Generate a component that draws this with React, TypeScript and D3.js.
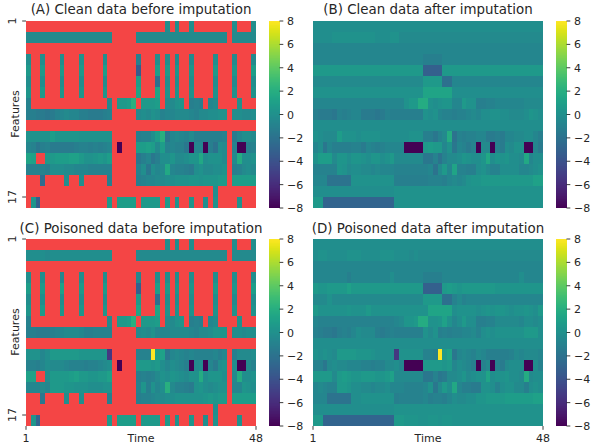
import React from "react";
import * as d3 from "d3";

// Cell codes: a..z step by a quarter unit (n is about -0.15), P = -8, B = -5.5, Y = 8, "." = missing
const cleanBefore = [
  "........ ........ ........ .....n.n ..n..... ...n...n",
  "mmmmmmmm mmmmmmmm mm.....m mmmmmmmm mmmmmmmm mm.mmmmm",
  "........ ........ ........ ........ ........ ........",
  "n..n...n ...o.... n......j ...n.n.m ..m....n ...m...m",
  "q..q...q ...q.... r......a ...r.q.p ..p....q ...p...r",
  "n..n...n ...n.... n......r ...f.n.n ..n....n ...m...n",
  "p..q...p ...p.... p......t ...t.o.o ..o....o ...o...o",
  "k....... ........ .m.qqrw. qqqr.mmo p.jkj.lm ....o...",
  "jjiihikl mlljjiii jk.....m nmonkllm mmlkmmnn oo.nnmmn",
  "........ ........ ........ ........ ........ ........",
  "ooooorpp pppooooo oo.....j kknrwhlm lkmjjjjj jk.ilnnm",
  "lkhjkiii iijkkjkj kl.P...r rsrmrklk khPllPjg nm.kPPjk",
  "ts..qqrr rssqoopq pr.....h jlhjnnpm mnppunoo om.mvnno",
  "kkkkjnnn mmlllkkk kk.....k nhnlmulk kjinommn no.jkmnm",
  "...e.... n..n.... .j.....j kllmmnno ooppoppp qq.rrrrr",
  "........ ........ ........ ........ .......n ........",
  ".pb..... ........ .q.rrrr. qqqq.q.o ..p..n.o ....o...",
];

const cleanAfter = [
  "nnnnnnnn nnnnnnnn nnnnnnnn nnnnnnnn nnnnnnnn nnnnnnnn",
  "nnnnoooo ooooonnn oommmmmm mmmmmmmm mmmmmmmm mmmmmmmm",
  "llllllll llllllll llllllll llllllll llllllll llllllll",
  "llllllll llllllll lllllllj jjjlllll llllllll llllllll",
  "qqqqqqqq qqqqqqqq qqqqqqqb bbbqqqqq qqqqqqqq qqqqqqqq",
  "mmmmmmmm mmmmmmmm mmmmmmmq qqqfflll llllllll llllllll",
  "oooooooo oooooooo ooooooot tttttnnn nnnnnnnn nnnnnnnn",
  "llllllll llllllll llloqqvv onoppllq oojjkkll llllmmmm",
  "jiiihkjk lliiihik jjjjjjjo nolkkjkk lmlnnoon nmmmnpon",
  "nnnnnnnn nnnnnnnn nnnnnnnn nnnnnnnn nnnnnnnn nnnnnnnn",
  "onmmmroo onoooonn nnnnoooj jhkmvgkj kklliiji llmmnnlj",
  "lnhljjjj kkilkjkl lllPPPPq rqqlohlk ikPmmPki nmooPPli",
  "orrrmppn pponppno qmmmmmmh hkgkmmnp onnpunpo pnnmulnn",
  "kkkkkpom nnmmlmll lkkkkkkk lgmqltkk jjnomkkn nnnllmno",
  "lllggggg oooooooo ojjjjjjj kkkjlmlm oppqqqqq qqqqqqss",
  "nnnnnnnn nnnnnnnn nooooooo oooooooo oooooooo oooooooo",
  "qqcccccc cccccccc cooooooo oooooooo oooooooo oooooooo",
];

const poisonedBefore = [
  "........ ........ ........ .....n.n ..n..... ...n...n",
  "nnnnmnnn nnnnnnnn nn.....m mmmmmmmm mmmmmmmm mm.mmmmm",
  "........ ........ ........ ........ ........ ........",
  "n..n...l ...n.... n......l ...n.n.n ..n....n ...n...n",
  "r..q...s ...q.... q......b ...r.q.p ..p....q ...p...r",
  "n..n...n ...n.... n......q ...f.n.n ..n....n ...m...n",
  "p..q...p ...p.... p......t ...t.o.o ..o....o ...o...o",
  "k....... ........ .m.qqrw. qqqr.mmo p.jkj.lm ....o...",
  "jjiiijkl mmmljjkk kk.....m nmolllmm mmlkmmnp pp.nnmnn",
  "........ ........ ........ ........ ........ ........",
  "ooolnqqq qqqppppp pB.....k kkYrshlm lklkkkkl jl.jmmmn",
  "kkjlnmmm lkkkjkkl mn.P...q qqpqnlnm ljPmnPli no.nPPmk",
  "ss..nqqq qrsqqppq qs.....j kjkmonpo nmoovnpp pn.mvnno",
  "lllmlqqq ppooonnn oo.....k pjolnwmk kjiopnmn oo.llpon",
  "...h.... n..n.... .j.....j kklmmnno ooooopqp qq.rrrrr",
  "........ ........ ........ ........ .......n ........",
  ".pc..... ........ .q.rrrr. qqqq.q.o ..p..n.o ....o...",
];

const poisonedAfter = [
  "nnnnnnnn nnnnnnnn nnnnnnnn nnnnnnnn nnnnnnnn nnnnnnnn",
  "noonnnno oonnnnoo onnnmnmm mmmmmmmm mmmmmmmm mmmmmmmm",
  "llllllll llllllll llllllll llllllll llllllll llllllll",
  "lllllllj llllllll nllllllj jjjlllll llllllll lllnllll",
  "qppqqqqs qqqqqqqq qqqqqqqb bbbqrqpq qqqqqqpp pppppppp",
  "mmmommmm mmmmmmmm mmmmmmmq qqqffkmk llllllll llllllll",
  "qoooooop oooqoooo oooooooo tttttnoo oonopopp onooponq",
  "lkkkkkkk kkkkkkkk klmppqvv oopsolnq nnjjkkmm mmmlnnmn",
  "kjiihjkj lnmmmjij kjjjjjjo mojkjkkl lmknonoo ooooqqqn",
  "nnnnnnnn nnnnnnnn nnnnnnnn nnnnnnnn nnnnnnnn nnnnnnnn",
  "ononmqqq qppponnn nBoooook kjYqshlm lkmljjjj jkmlmmml",
  "kkhmnmml llkkjkkm mnlPPPPq qqqpqlnm ljPkmPki mnnnPPnk",
  "qqqqmqrq ppqqqppq smmmmmmh hkhimmnp mnootnoo pnnmvmnn",
  "lmlkkqqp nnmmlmmn lllkkkkl ohmqnulj jiioonkn oommjnon",
  "lllggggg nnoooooo ojkkkkkl jkkjlnmm nnppqqqq rrrrrrss",
  "nnnnnnnn nnnnnnnn nooooooo oooooooo oooooooo oooooooo",
  "qqcccccc cccccccc cqqpppoo ppoppooo oooooooo oooooooo",
];

const titles = [
  "(A) Clean data before imputation",
  "(B) Clean data after imputation",
  "(C) Poisoned data before imputation",
  "(D) Poisoned data after imputation",
];
const colorbarTicks = [8, 6, 4, 2, 0, -2, -4, -6, -8];
const yTickLabels = ["1", "17"];
const xTickLabels = ["1", "48"];

const MISSING = "#f44545";
const INK = "#262626";
const FONT = "'DejaVu Sans', sans-serif";

function decode(c: string): number | null {
  if (c === ".") return null;
  if (c === "P") return -8;
  if (c === "B") return -5.5;
  if (c === "Y") return 8;
  return -3.4 + 0.25 * (c.charCodeAt(0) - 97);
}

const color = (v: number) => d3.interpolateViridis((v + 8) / 16);

function Panel({
  rows,
  title,
  left,
  top,
  titleY,
  showY,
  showX,
}: {
  rows: string[];
  title: string;
  left: number;
  top: number;
  titleY: number;
  showY: boolean;
  showX: boolean;
}) {
  const W = 230;
  const H = 187;
  const x = d3.scaleLinear().domain([0, 48]).range([left, left + W]);
  const y = d3.scaleLinear().domain([0, 17]).range([top, top + H]);
  const cbX = left + W + 13;
  const cbW = 10.5;
  const cy = d3.scaleLinear().domain([8, -8]).range([top, top + H]);
  const levels = d3.range(0, 187);
  const cx = left + W / 2;
  return (
    <g fontFamily={FONT} fill={INK}>
      <text x={cx} y={titleY} fontSize={13.4} textAnchor="middle">
        {title}
      </text>
      <g filter="url(#soft)">
        <g shapeRendering="crispEdges">
          {rows.map((r, ri) =>
            r
              .replace(/ /g, "")
              .split("")
              .map((c, ci) => {
                const v = decode(c);
                return (
                  <rect
                    key={`${ri}-${ci}`}
                    x={x(ci)}
                    y={y(ri)}
                    width={x(ci + 1) - x(ci)}
                    height={y(ri + 1) - y(ri)}
                    fill={v === null ? MISSING : color(v)}
                  />
                );
              })
          )}
          {levels.map((i) => (
            <rect
              key={i}
              x={cbX}
              y={top + i}
              width={cbW}
              height={1}
              fill={color(cy.invert(top + i + 0.5))}
            />
          ))}
        </g>
      </g>
      {colorbarTicks.map((t) => (
        <g key={t}>
          <line x1={cbX + cbW} x2={cbX + cbW + 3.8} y1={cy(t)} y2={cy(t)} stroke={INK} strokeWidth={0.9} />
          <text x={cbX + cbW + 7.5} y={cy(t) + 4} fontSize={11}>
            {t < 0 ? `\u2212${-t}` : t}
          </text>
        </g>
      ))}
      {showY && (
        <g>
          {yTickLabels.map((l) => {
            const ty = y(+l - 1);
            return (
              <g key={l}>
                <line x1={left - 3.8} x2={left} y1={ty} y2={ty} stroke={INK} strokeWidth={0.9} />
                <text
                  transform={`translate(${left - 14.3},${ty}) rotate(-90)`}
                  fontSize={11}
                  textAnchor="middle"
                  dy={4}
                >
                  {l}
                </text>
              </g>
            );
          })}
          <text
            transform={`translate(15,${top + 93}) rotate(-90)`}
            fontSize={11}
            textAnchor="middle"
            dy={4}
          >
            Features
          </text>
        </g>
      )}
      {showX && (
        <g>
          {xTickLabels.map((l) => {
            const tx = l === "1" ? left : left + W;
            return (
              <g key={l}>
                <line x1={tx} x2={tx} y1={top + H} y2={top + H + 3.8} stroke={INK} strokeWidth={0.9} />
                <text x={tx} y={top + H + 16} fontSize={11} textAnchor="middle">
                  {l}
                </text>
              </g>
            );
          })}
          <text x={cx} y={top + H + 16} fontSize={11} textAnchor="middle">
            Time
          </text>
        </g>
      )}
    </g>
  );
}

export default function App() {
  return (
    <svg
      width={592}
      height={445}
      style={{ position: "absolute", left: 0, top: 0, display: "block", background: "#fff" }}
    >
      <defs>
        <filter id="soft" colorInterpolationFilters="sRGB">
          <feGaussianBlur stdDeviation={0.35} />
        </filter>
      </defs>
      <Panel rows={cleanBefore} title={titles[0]} left={26} top={21} titleY={13.5} showY showX={false} />
      <Panel rows={cleanAfter} title={titles[1]} left={313} top={21} titleY={13.5} showY={false} showX={false} />
      <Panel rows={poisonedBefore} title={titles[2]} left={26} top={239} titleY={232.5} showY showX />
      <Panel rows={poisonedAfter} title={titles[3]} left={313} top={239} titleY={232.5} showY={false} showX />
    </svg>
  );
}
